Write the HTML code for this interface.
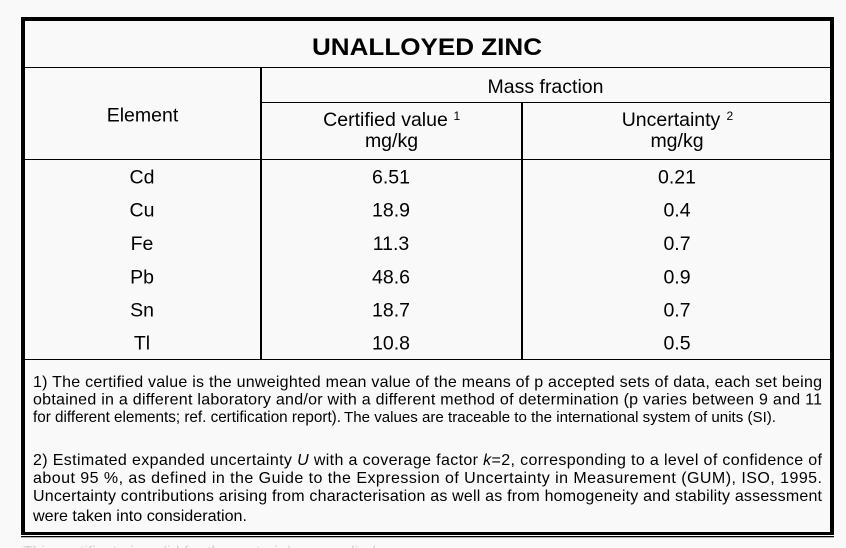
<!DOCTYPE html>
<html>
<head>
<meta charset="utf-8">
<style>
  html, body { margin: 0; padding: 0; background: #f9f9f9; }
  body { width: 846px; height: 548px; overflow: hidden; }
  svg { display: block; }
  text { font-family: "Liberation Sans", Arial, sans-serif; fill: #000; }
</style>
</head>
<body>
<svg width="846" height="548" viewBox="0 0 846 548" xmlns="http://www.w3.org/2000/svg">
  <rect x="0" y="0" width="846" height="548" fill="#f9f9f9"/>

  <!-- outer frame -->
  <rect x="21" y="17" width="813" height="4" fill="#000"/>
  <rect x="21" y="17" width="4" height="518" fill="#000"/>
  <rect x="830" y="17" width="4" height="518" fill="#000"/>
  <rect x="21" y="532" width="813" height="3" fill="#000"/>
  <rect x="21" y="536" width="813" height="1.3" fill="#000"/>

  <!-- inner lines -->
  <rect x="25" y="67" width="805" height="1" fill="#000"/>
  <rect x="260" y="67" width="2" height="292" fill="#000"/>
  <rect x="262" y="102" width="568" height="1" fill="#000"/>
  <rect x="521" y="102" width="2" height="257" fill="#000"/>
  <rect x="25" y="159" width="805" height="1" fill="#000"/>
  <rect x="25" y="359" width="805" height="1" fill="#000"/>

  <!-- title -->
  <text x="427" y="55" font-size="24" font-weight="bold" text-anchor="middle" textLength="230" lengthAdjust="spacingAndGlyphs">UNALLOYED ZINC</text>

  <!-- headers -->
  <text x="545.5" y="93" font-size="19.5" text-anchor="middle">Mass fraction</text>
  <text x="142.5" y="121.5" font-size="19.5" text-anchor="middle">Element</text>

  <text x="385.5" y="126" font-size="19.5" text-anchor="middle">Certified value</text>
  <text x="453.5" y="120" font-size="12">1</text>
  <text x="391.5" y="147" font-size="19.5" text-anchor="middle">mg/kg</text>

  <text x="671" y="126" font-size="19.5" text-anchor="middle">Uncertainty</text>
  <text x="726.5" y="120" font-size="12">2</text>
  <text x="677" y="147" font-size="19.5" text-anchor="middle">mg/kg</text>

  <!-- data rows -->
  <g font-size="19.5" text-anchor="middle">
    <text x="142" y="183.3">Cd</text>
    <text x="391" y="183.3">6.51</text>
    <text x="677" y="183.3">0.21</text>

    <text x="142" y="216.6">Cu</text>
    <text x="391" y="216.6">18.9</text>
    <text x="677" y="216.6">0.4</text>

    <text x="142" y="250">Fe</text>
    <text x="391" y="250">11.3</text>
    <text x="677" y="250">0.7</text>

    <text x="142" y="283.3">Pb</text>
    <text x="391" y="283.3">48.6</text>
    <text x="677" y="283.3">0.9</text>

    <text x="142" y="316.4">Sn</text>
    <text x="391" y="316.4">18.7</text>
    <text x="677" y="316.4">0.7</text>

    <text x="142" y="349.5">Tl</text>
    <text x="391" y="349.5">10.8</text>
    <text x="677" y="349.5">0.5</text>
  </g>

  <!-- footnote 1 -->
  <g font-size="16">
    <text x="33" y="387" textLength="789" lengthAdjust="spacing">1) The certified value is the unweighted mean value of the means of p accepted sets of data, each set being</text>
    <text x="33" y="404.5" textLength="789" lengthAdjust="spacing">obtained in a different laboratory and/or with a different method of determination (p varies between 9 and 11</text>
    <text x="33" y="422" textLength="308" lengthAdjust="spacingAndGlyphs">for different elements; ref. certification report).</text>
    <text x="344" y="422" font-size="15" textLength="432" lengthAdjust="spacingAndGlyphs">The values are traceable to the international system of units (SI).</text>

    <!-- footnote 2 -->
    <text x="33" y="465" textLength="789" lengthAdjust="spacing">2) Estimated expanded uncertainty <tspan font-style="italic">U</tspan> with a coverage factor <tspan font-style="italic">k</tspan>=2, corresponding to a level of confidence of</text>
    <text x="33" y="483" textLength="789" lengthAdjust="spacing">about 95 %, as defined in the Guide to the Expression of Uncertainty in Measurement (GUM), ISO, 1995.</text>
    <text x="33" y="501" textLength="789" lengthAdjust="spacing">Uncertainty contributions arising from characterisation as well as from homogeneity and stability assessment</text>
    <text x="33" y="521" textLength="214" lengthAdjust="spacingAndGlyphs">were taken into consideration.</text>
  </g>

  <!-- faint cut-off text below the table -->
  <text x="23" y="557" font-size="16" fill="#d4d4d4" style="fill:#d4d4d4">This certificate is valid for the material as supplied</text>
</svg>
</body>
</html>
